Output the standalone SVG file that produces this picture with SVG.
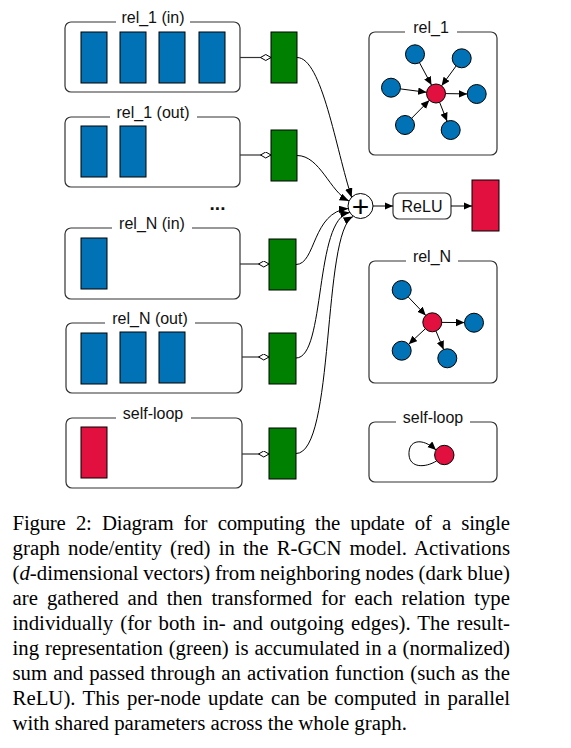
<svg xmlns="http://www.w3.org/2000/svg" width="571" height="748" viewBox="0 0 571 748">
<defs>
<style>
.box{fill:#fff;stroke:#333;stroke-width:1.2}
.lblbg{fill:#fff;stroke:none}
.lbl{font-family:"Liberation Sans",Arial,sans-serif;font-size:16px;fill:#111;text-anchor:middle}
.vec{fill:#0072b5;stroke:#000;stroke-width:1}
.red{fill:#e2103f;stroke:#000;stroke-width:1}
.grn{fill:#008000;stroke:#000;stroke-width:1}
.bn{fill:#0072b5;stroke:#000;stroke-width:1}
.rn{fill:#e2103f;stroke:#000;stroke-width:1}
.edge{fill:none;stroke:#000;stroke-width:1;marker-end:url(#ah)}
.curve{fill:none;stroke:#000;stroke-width:1;marker-end:url(#ahb)}
.conn{fill:none;stroke:#333;stroke-width:1.2;marker-end:url(#dia)}
.cap{font-family:"Liberation Serif","Times New Roman",serif;font-size:20.8px;fill:#000}
</style>
<marker id="ah" markerUnits="userSpaceOnUse" markerWidth="9" markerHeight="8" refX="8.5" refY="3.75" orient="auto">
<path d="M0,0 L8.5,3.75 L0,7.5 z" fill="#000"/>
</marker>
<marker id="ahb" markerUnits="userSpaceOnUse" markerWidth="10" markerHeight="8" refX="9.5" refY="3.75" orient="auto">
<path d="M0,0 L9.5,3.75 L0,7.5 z" fill="#000"/>
</marker>
<marker id="dia" markerUnits="userSpaceOnUse" markerWidth="12" markerHeight="8" refX="11" refY="3.5" orient="auto">
<path d="M0.5,3.5 L5.75,0.5 L11,3.5 L5.75,6.5 z" fill="#fff" stroke="#000" stroke-width="1"/>
</marker>
</defs>

<g id="box-rel1-in">
<rect class="box" x="65" y="22" width="175" height="70" rx="6"/>
<rect class="lblbg" x="116" y="12" width="74" height="14"/>
<text class="lbl" x="153" y="23">rel_1 (in)</text>
<rect class="vec" x="81" y="32" width="26" height="51"/>
<rect class="vec" x="120" y="32" width="26" height="51"/>
<rect class="vec" x="159" y="32" width="26" height="51"/>
<rect class="vec" x="199" y="32" width="26" height="51"/>
</g>
<g id="box-rel1-out">
<rect class="box" x="65" y="117" width="175" height="70" rx="6"/>
<rect class="lblbg" x="110" y="107" width="87" height="14"/>
<text class="lbl" x="153" y="118">rel_1 (out)</text>
<rect class="vec" x="81" y="126" width="26" height="51"/>
<rect class="vec" x="120" y="126" width="26" height="51"/>
</g>
<g id="dots">
<text class="lbl" x="217.5" y="210" style="font-weight:bold;font-size:19px">...</text>
</g>
<g id="box-relN-in">
<rect class="box" x="65" y="228" width="175" height="71" rx="6"/>
<rect class="lblbg" x="112" y="218" width="80" height="14"/>
<text class="lbl" x="152" y="229">rel_N (in)</text>
<rect class="vec" x="81" y="238" width="26" height="51"/>
</g>
<g id="box-relN-out">
<rect class="box" x="66" y="323" width="176" height="70" rx="6"/>
<rect class="lblbg" x="105" y="313" width="90" height="14"/>
<text class="lbl" x="150" y="324">rel_N (out)</text>
<rect class="vec" x="81" y="333" width="26" height="51"/>
<rect class="vec" x="120" y="332" width="26" height="51"/>
<rect class="vec" x="159" y="332" width="26" height="51"/>
</g>
<g id="box-self">
<rect class="box" x="66" y="418" width="176" height="70" rx="6"/>
<rect class="lblbg" x="116" y="408" width="75" height="14"/>
<text class="lbl" x="153" y="419">self-loop</text>
<rect class="red" x="81" y="427" width="26" height="51"/>
</g>

<g id="w-rel1-in"><rect class="grn" x="271" y="32" width="26" height="51"/></g>
<g id="w-rel1-out"><rect class="grn" x="271" y="130" width="26" height="51"/></g>
<g id="w-relN-in"><rect class="grn" x="269" y="239" width="27" height="51"/></g>
<g id="w-relN-out"><rect class="grn" x="269" y="333" width="27" height="51"/></g>
<g id="w-self"><rect class="grn" x="269" y="428" width="27" height="51"/></g>

<g id="sum">
<circle cx="360.5" cy="206" r="12.5" fill="#fff" stroke="#000" stroke-width="1"/>
<text x="360.5" y="216.6" style="font-family:'Liberation Sans',Arial,sans-serif;font-size:30px;text-anchor:middle;fill:#000">+</text>
</g>
<g id="relu">
<rect class="box" x="393" y="193" width="58" height="26" rx="6"/>
<text class="lbl" x="422" y="212">ReLU</text>
</g>
<g id="output">
<rect class="red" x="472" y="180" width="27" height="51"/>
</g>

<g id="graph-rel1">
<rect class="box" x="369" y="32" width="128" height="123" rx="6"/>
<rect class="lblbg" x="405" y="22" width="52" height="14"/>
<text class="lbl" x="431" y="33">rel_1</text>
<circle class="bn" cx="415" cy="54.3" r="9.5"/>
<circle class="bn" cx="461.7" cy="58.3" r="9.5"/>
<circle class="bn" cx="391" cy="87.7" r="9.5"/>
<circle class="bn" cx="476.7" cy="94" r="9.5"/>
<circle class="bn" cx="405" cy="125" r="9.5"/>
<circle class="bn" cx="450.7" cy="130" r="9.5"/>
<circle class="rn" cx="436" cy="93.5" r="9.5"/>
</g>
<g id="graph-relN">
<rect class="box" x="369" y="261" width="128" height="122" rx="6"/>
<rect class="lblbg" x="406" y="251" width="52" height="14"/>
<text class="lbl" x="432" y="262">rel_N</text>
<circle class="bn" cx="401.7" cy="290" r="9.5"/>
<circle class="bn" cx="474" cy="322.7" r="9.5"/>
<circle class="bn" cx="401.7" cy="350.7" r="9.5"/>
<circle class="bn" cx="447.3" cy="358.3" r="9.5"/>
<circle class="rn" cx="432.3" cy="322.3" r="9.5"/>
</g>
<g id="graph-self">
<rect class="box" x="369" y="422" width="128" height="60" rx="6"/>
<rect class="lblbg" x="396" y="412" width="74" height="14"/>
<text class="lbl" x="433" y="423">self-loop</text>
<circle class="rn" cx="444.3" cy="455" r="9.7"/>
</g>

<g id="connectors">
<line class="conn" x1="240" y1="57.5" x2="271" y2="57.5"/>
<line class="conn" x1="240" y1="155" x2="271" y2="155"/>
<line class="conn" x1="240" y1="264" x2="269" y2="264"/>
<line class="conn" x1="242" y1="357" x2="269" y2="357"/>
<line class="conn" x1="242" y1="454" x2="269" y2="454"/>
<path class="curve" d="M297,57.5 C322,57.5 336,150 351.7,197.5"/>
<path class="curve" d="M297,155.5 C320,155.5 330,192 349,201"/>
<path class="curve" d="M296,264.5 C316,264.5 312,212 348.3,208.5"/>
<path class="curve" d="M296,358 C326,358 314,218 349.8,212.5"/>
<path class="curve" d="M296,453.5 C335,453.5 322,232 353,216.5"/>
<line class="edge" x1="373" y1="206" x2="393" y2="206"/>
<line class="edge" x1="451" y1="206" x2="472" y2="206"/>
<line class="edge" x1="419.5" y1="62.7" x2="431.5" y2="85.1"/>
<line class="edge" x1="456.1" y1="66" x2="441.6" y2="85.8"/>
<line class="edge" x1="400.4" y1="88.9" x2="426.6" y2="92.3"/>
<line class="edge" x1="411.7" y1="118.2" x2="429.3" y2="100.3"/>
<line class="edge" x1="445.5" y1="93.6" x2="467.2" y2="93.9"/>
<line class="edge" x1="439.6" y1="102.3" x2="447.1" y2="121.2"/>
<line class="edge" x1="408.2" y1="296.9" x2="425.8" y2="315.4"/>
<line class="edge" x1="441.8" y1="322.4" x2="464.5" y2="322.6"/>
<line class="edge" x1="425.3" y1="328.8" x2="408.7" y2="344.2"/>
<line class="edge" x1="436" y1="331.1" x2="443.6" y2="349.5"/>
<path class="edge" d="M436.5,461 C425,468 410,468 409,455 C408,440 422,437 436,450"/>
</g>

<g id="caption">
<text class="cap" x="12.5" y="530" word-spacing="5.28" textLength="497.5" lengthAdjust="spacing">Figure 2: Diagram for computing the update of a single</text>
<text class="cap" x="12.5" y="555" word-spacing="2.9" textLength="497.5" lengthAdjust="spacing">graph node/entity (red) in the R-GCN model. Activations</text>
<text class="cap" x="12.5" y="580" word-spacing="-0.47" textLength="497.5" lengthAdjust="spacing">(<tspan font-style="italic">d</tspan>-dimensional vectors) from neighboring nodes (dark blue)</text>
<text class="cap" x="12.5" y="605" word-spacing="3.85" textLength="497.5" lengthAdjust="spacing">are gathered and then transformed for each relation type</text>
<text class="cap" x="12.5" y="630" word-spacing="1.89" textLength="497.5" lengthAdjust="spacing">individually (for both in- and outgoing edges). The result-</text>
<text class="cap" x="12.5" y="655" word-spacing="0.69" textLength="497.5" lengthAdjust="spacing">ing representation (green) is accumulated in a (normalized)</text>
<text class="cap" x="12.5" y="680" word-spacing="0.78" textLength="497.5" lengthAdjust="spacing">sum and passed through an activation function (such as the</text>
<text class="cap" x="12.5" y="705" word-spacing="2.19" textLength="497.5" lengthAdjust="spacing">ReLU). This per-node update can be computed in parallel</text>
<text class="cap" x="12.5" y="730">with shared parameters across the whole graph.</text>
</g>
</svg>
